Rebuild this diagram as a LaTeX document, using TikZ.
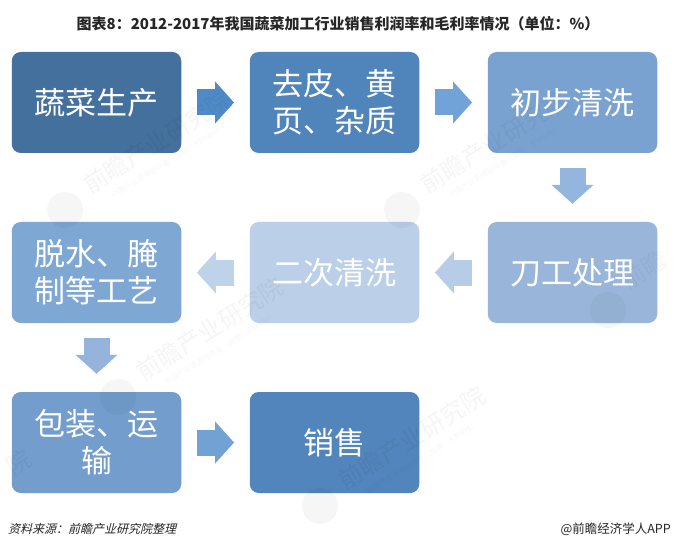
\documentclass[tikz,border=0pt]{standalone}
\usepackage{fontspec}
\usetikzlibrary{arrows.meta}
\setmainfont{Noto Sans CJK SC}
\newfontfamily\cjkslant[FakeSlant=0.25]{Noto Sans CJK SC}
\definecolor{boxA}{HTML}{44709D}
\definecolor{boxB}{HTML}{5085BB}
\definecolor{boxC}{HTML}{7AA2D0}
\definecolor{boxD}{HTML}{99B6DA}
\definecolor{boxE}{HTML}{BBCFE8}
\definecolor{boxF}{HTML}{7FA7D4}
\definecolor{boxG}{HTML}{729DCD}
\definecolor{boxH}{HTML}{5285BB}
\definecolor{arrA}{HTML}{4F8AC6}
\definecolor{arrB}{HTML}{72A3D8}
\definecolor{arrC}{HTML}{94B5DD}
\definecolor{arrD}{HTML}{B7CCE6}
\definecolor{arrE}{HTML}{BED3EA}
\definecolor{arrF}{HTML}{94B4DC}
\definecolor{arrG}{HTML}{72A2D4}
\definecolor{titlecol}{HTML}{262626}
\tikzset{
  stagebox/.style={rectangle, rounded corners=9pt, minimum width=169.5pt, minimum height=101pt,
    inner sep=0pt, text=white, font=\fontsize{31pt}{37pt}\selectfont, align=center},
  blockarrow/.style={line width=26pt, shorten >=15.5pt, shorten <=15.5pt,
    -{Triangle[length=19pt,width=41pt]}},
  wmbig/.style={font=\fontsize{24pt}{24pt}\selectfont, text=black, text opacity=0.04, rotate=32, inner sep=0pt},
  wmsmall/.style={font=\fontsize{7.5pt}{9pt}\selectfont, text=black, text opacity=0.035, rotate=32, inner sep=0pt},
  wmlogo/.style={fill=black, fill opacity=0.035},
}
\newcommand{\wmark}[3]{%
  \begin{scope}[shift={(#2,#3)}]
    \node[wmbig] (wm#1a) at (0,0) {前瞻产业研究院};
    \node[wmsmall] (wm#1b) at (10,20) {中国产业咨询领导者（股票：839599）};
    \path[wmlogo] (-92,68) circle[radius=18pt];
  \end{scope}}
\begin{document}
\begin{tikzpicture}[x=1pt,y=-1pt]
\useasboundingbox (0,0) rectangle (680,548);
\fill[white] (0,0) rectangle (680,548);

\node[font=\fontsize{15pt}{17pt}\bfseries\selectfont, text=titlecol, inner sep=0pt] (title) at (338,24)
  {图表8：2012-2017年我国蔬菜加工行业销售利润率和毛利率情况（单位：\%）};

\node[stagebox, fill=boxA] (a) at (96.5,102.5) {蔬菜生产};
\node[stagebox, fill=boxB] (b) at (334.5,102.5) {去皮、黄\\页、杂质};
\node[stagebox, fill=boxC] (c) at (572.5,102.5) {初步清洗};
\node[stagebox, fill=boxD] (d) at (572.5,272.5) {刀工处理};
\node[stagebox, fill=boxE] (e) at (334.5,272.5) {二次清洗};
\node[stagebox, fill=boxF] (f) at (96.5,272.5) {脱水、腌\\制等工艺};
\node[stagebox, fill=boxG] (g) at (96.5,442.5) {包装、运\\输};
\node[stagebox, fill=boxH] (h) at (334.5,442.5) {销售};

\draw[blockarrow, draw=arrA] (a) -- (b);
\draw[blockarrow, draw=arrB] (b) -- (c);
\draw[blockarrow, draw=arrC, shorten >=18pt, shorten <=15pt] (c) -- (d);
\draw[blockarrow, draw=arrD] (d) -- (e);
\draw[blockarrow, draw=arrE] (e) -- (f);
\draw[blockarrow, draw=arrF, shorten >=18pt, shorten <=15pt] (f) -- (g);
\draw[blockarrow, draw=arrG] (g) -- (h);

\wmark{one}{157}{142}
\wmark{two}{494}{142}
\wmark{three}{210}{329}
\wmark{four}{412}{438}
\node[wmbig] (wmr) at (644,270) {前瞻};
\path[wmlogo] (608,310) circle[radius=18pt];
\node[wmbig] (wml) at (19,462) {院};

\node[font=\fontsize{12pt}{14pt}\selectfont\cjkslant, text=titlecol, anchor=west, inner sep=0pt] (src) at (8,529)
  {资料来源：前瞻产业研究院整理};
\node[font=\fontsize{12.5pt}{14pt}\selectfont, text=titlecol, anchor=east, inner sep=0pt] (app) at (671,529)
  {@前瞻经济学人APP};
\end{tikzpicture}
\end{document}
